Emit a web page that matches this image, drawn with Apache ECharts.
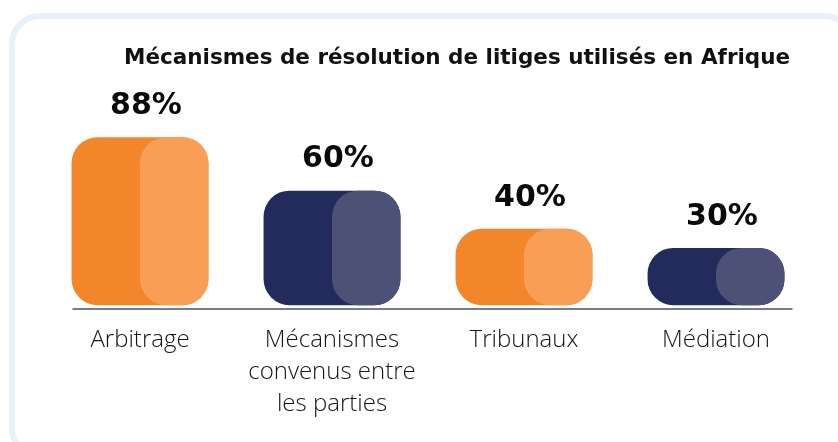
<!DOCTYPE html>
<html>
<head>
<meta charset="utf-8">
<script src="https://cdn.jsdelivr.net/npm/echarts@6/dist/echarts.min.js"></script>
<style>
  html, body { margin: 0; padding: 0; background: #ffffff; }
  #chart { width: 838px; height: 442px; }
</style>
</head>
<body>
<div id="chart"></div>
<script>
// Dispute resolution mechanisms in Africa (share of cases, %)
const categories = ['Arbitrage', 'Mécanismes\nconvenus entre\nles parties', 'Tribunaux', 'Médiation'];
const shares = [88, 60, 40, 30];
const valueLabels = ['88%', '60%', '40%', '30%'];

// Two-tone fill per bar: [main, lighter right half]
const palette = [
  ['#F3862A', '#F89F55'],
  ['#222B5B', '#4E5177'],
  ['#F3862A', '#F89F55'],
  ['#222B5B', '#4E5177']
];

const chart = echarts.init(document.getElementById('chart'), null, { renderer: 'canvas' });

function renderBar(params, api) {
  const idx = api.value(0);
  const val = api.value(1);
  const topPt = api.coord([idx, val]);
  const basePt = api.coord([idx, 0]);
  const band = api.size([1, 0])[0];
  const w = band * 0.713;
  const cx = topPt[0];
  const top = topPt[1];
  const h = basePt[1] - top;
  const r = Math.min(26, h * 0.45);
  const colors = palette[idx % palette.length];
  return {
    type: 'group',
    children: [
      {
        type: 'rect',
        shape: { x: cx - w / 2, y: top, width: w, height: h, r: r },
        style: { fill: colors[0] }
      },
      {
        type: 'rect',
        shape: { x: cx, y: top, width: w / 2, height: h, r: r },
        style: { fill: colors[1] }
      },
      {
        type: 'text',
        style: {
          x: cx + 6,
          y: top - 31,
          text: valueLabels[idx],
          fill: '#0a0a0a',
          font: 'bold 30px "DejaVu Sans", sans-serif',
          align: 'center',
          verticalAlign: 'middle'
        }
      }
    ]
  };
}

chart.setOption({
  backgroundColor: '#ffffff',
  animation: false,
  graphic: [
    {
      type: 'rect',
      z: -10,
      shape: { x: 12, y: 16, width: 840, height: 440, r: 28 },
      style: { fill: '#ffffff', stroke: '#E9F0F9', lineWidth: 6 }
    }
  ],
  title: {
    text: 'Mécanismes de résolution de litiges utilisés en Afrique',
    left: 119,
    top: 42,
    textStyle: {
      fontFamily: '"DejaVu Sans", sans-serif',
      fontSize: 21.5,
      fontWeight: 'bold',
      color: '#111111'
    }
  },
  grid: [
    { left: 44, right: 26, top: 100, bottom: 134 },
    { left: 73, right: 46, top: 100, bottom: 133 }
  ],
  xAxis: [
    {
      type: 'category',
      gridIndex: 0,
      data: categories,
      axisLine: { show: false, onZero: false },
      axisTick: { show: false },
      axisLabel: {
        margin: 16,
        fontFamily: '"Open Sans", sans-serif',
        fontSize: 24,
        fontWeight: 300,
        lineHeight: 32,
        color: '#141414',
        align: 'center',
        interval: 0
      }
    },
    {
      type: 'value',
      gridIndex: 1,
      min: 0,
      max: 1,
      axisLine: { show: true, onZero: false, lineStyle: { color: '#4A5070', width: 1.5 } },
      axisTick: { show: false },
      axisLabel: { show: false },
      splitLine: { show: false }
    }
  ],
  yAxis: [
    { type: 'value', gridIndex: 0, min: -1.5, max: 107.5, show: false, splitLine: { show: false } },
    { type: 'value', gridIndex: 1, min: 0, max: 1, show: false, splitLine: { show: false } }
  ],
  series: [
    {
      type: 'custom',
      xAxisIndex: 0,
      yAxisIndex: 0,
      renderItem: renderBar,
      data: shares.map((v, i) => [i, v])
    }
  ]
});
</script>
</body>
</html>
